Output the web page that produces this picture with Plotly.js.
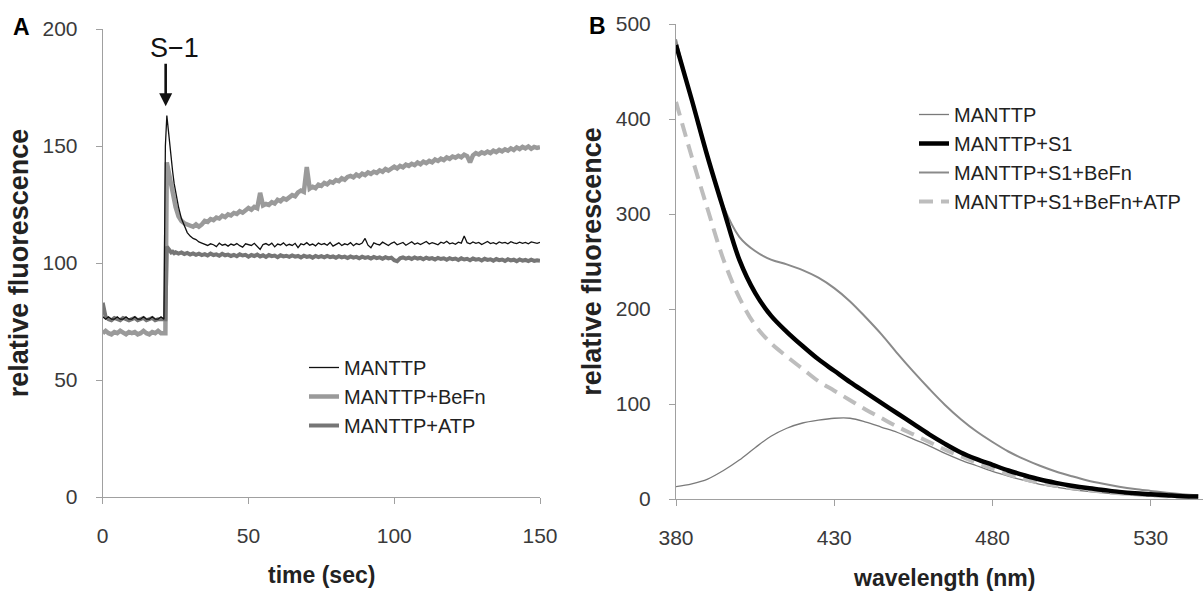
<!DOCTYPE html>
<html>
<head>
<meta charset="utf-8">
<script src="https://cdn.plot.ly/plotly-3.0.1.min.js"></script>
<style>
html,body{margin:0;padding:0;background:#fff;}
#chart{width:1203px;height:591px;}
</style>
</head>
<body>
<div id="chart"></div>
<script>
// ---------- Panel A: time course ----------
const timeSec = [
  0,1,2,3,4,5,6,7,8,9,10,11,12,13,14,15,16,17,18,19,20,
  21,21.5,22,22.5,23,23.5,24,24.5,
  25,26,27,28,29,30,31,32,33,34,
  35,36,37,38,39,40,41,42,43,44,
  45,46,47,48,49,50,51,52,53,54,
  55,56,57,58,59,60,61,62,63,64,
  65,66,67,68,69,70,71,72,73,74,
  75,76,77,78,79,80,81,82,83,84,
  85,86,87,88,89,90,91,92,93,94,
  95,96,97,98,99,100,101,102,103,104,
  105,106,107,108,109,110,111,112,113,114,
  115,116,117,118,119,120,121,122,123,124,
  125,126,127,128,129,130,131,132,133,134,
  135,136,137,138,139,140,141,142,143,144,
  145,146,147,148,149,150
];
const mantTP = [
  77,76,77,76,76,77,76,76,77,76,76,77,76,76,77,76,76,77,76,76,77,
  76,150,163,157,150,144,139,134,
  130,124,119,116,113,111.5,110.5,110,109,108.5,
  108,107.5,108.2,107.8,107,108.5,107.6,108,107.2,108.1,
  107.6,108.3,107.4,106.8,108.2,107.9,107.5,108.4,107.3,105.8,
  107.9,108.3,107.6,108.5,106.9,108.1,107.7,108.6,107.4,108,
  107.5,108.4,106.6,108.2,107.8,108.7,107.6,108.1,107.3,108.5,
  107.9,108.3,107.6,108.8,107.2,108,108.6,107.5,108.2,107.8,
  108.7,107.4,108.3,107.9,108.5,110.5,107.6,106.5,108.6,108.1,
  107.7,108.9,108.2,107.5,108.4,109,107.8,108.3,108.8,107.6,
  108.5,109.1,108,108.6,107.9,108.4,109.2,108.1,108.7,108.3,
  107.8,108.9,108.4,109.3,108.2,108.6,108,108.9,108.5,111.5,
  108.7,108.2,109,108.4,108.8,107.9,108.6,109.2,108.3,108.7,
  108.1,109,108.5,108.8,108.2,109.1,108.6,108.3,108.9,108.4,
  108.8,108.2,109,108.6,108.4,108.8
];
const mantTPBeFn = [
  70,71,70,69.5,70.5,70,71,70,69.5,70.5,70,70.5,69.5,70,71,70,69.5,70.5,70,71,70,
  70,70,143,140,136,132,129,126,
  124,120,118,117,116.5,116,115.5,116.5,115.5,116.5,
  118,117.6,118.8,118.3,119.4,119,120.2,119.6,120.8,120.3,
  121.4,121,122.1,121.5,122.6,123.5,122.8,124,123.4,130,
  124.6,125.2,124.8,126,125.4,127,126.4,127.6,127.1,128.3,
  129,128.5,130.2,131,130.4,141,131.8,132.6,132,133.5,
  133,134.2,133.6,134.8,134.3,135.4,135,136.2,135.6,136.8,
  137.2,136.6,137.8,137.1,138.2,137.6,138.7,138.1,139,138.5,
  139.6,139,140.2,139.5,140.6,141.2,140.4,141.5,140.9,142,
  141.5,142.4,141.8,142.9,142.2,143.3,142.7,143.6,143,144.2,
  143.6,144.6,144,145.1,144.5,145.5,145,145.8,145.2,146.3,
  145.7,143,146,147,146.4,147.3,146.8,147.6,147,148,
  147.4,148.3,147.7,148.6,148,149,148.3,149.4,148.7,149.6,
  149,149.8,148.8,149.6,149.2,149.5
];
const mantTPATP = [
  83,77,76,75.5,76.5,76,75.5,76.5,76,75.5,76,76.5,75.5,76,76.5,75.5,76,76.5,75.5,76,76,
  76,76,107,106,105,104.5,104.8,104.2,
  104.6,104,104.5,103.8,104.3,103.6,104.1,103.5,104,103.4,
  103.8,103.2,104,103.4,103.7,103.1,103.9,103.3,103.6,103,
  103.5,102.9,103.7,103.2,103.5,102.7,103.4,103,103.6,102.8,
  103.3,102.6,103.4,102.9,103.2,102.5,103.3,102.8,103.1,102.6,
  103.2,102.7,103,102.4,103.1,102.6,102.9,102.3,103,102.5,
  102.9,102.4,103,102.5,102.8,102.2,102.9,102.4,102.7,102.1,
  102.8,102.3,102.6,102,102.7,102.2,102.5,101.9,102.6,102.1,
  102.4,101.8,102.5,102,102.3,101.2,100.8,102,102.4,101.9,
  102.3,101.7,102.4,101.9,102.2,101.6,102.3,101.8,102.1,101.5,
  102.2,101.7,102,101.4,102.1,101.6,101.9,101.3,102,101.5,
  101.8,101.2,101.9,101.4,101.7,101.1,101.8,101.3,101.6,101,
  101.7,101.2,101.5,100.9,101.6,101.1,101.4,100.8,101.5,101,
  101.3,100.8,101.4,100.9,101.2,101
];
const seriesNamesA = ['MANTTP','MANTTP+BeFn','MANTTP+ATP'];
const ticksA_x = [0,50,100,150];
const ticksA_y = [0,50,100,150,200];

// ---------- Panel B: emission spectra ----------
const wavelengthNm = [380,385,390,395,400,405,410,415,420,425,430,435,440,445,450,455,460,465,470,475,480,485,490,495,500,505,510,515,520,525,530,535,540,545];
const specMANTTP = [13,16,21,30,41,54,66,74.5,80,83,85,85,81,75.5,70,63,56,48,41,35,29,24,19.5,15.5,12.5,10,8,6.5,5,4,3,2.5,2,1.5];
const specS1 = [478,420,360,305,252,217,193,176,161,147,135,123,112,101,90,79,68,58,49,42,36,30,25,20.5,17,14,11.5,9.5,7.5,6,5,4,3,2.5];
const specS1BeFn = [484,418,358,308,276,261,252,247,241,233,222,208,191,173,153,134,116,99,84,71,60,50,42,35,29,24,19.5,16,13,10.5,8.5,6.5,5,4];
const specS1BeFnATP = [418,360,305,252,212,183,164,150,137,124,114,104,94,85,76,68,60,52,45,38,32,26,21,17,14,11.5,9.5,7.5,6,5,4,3,2.5,2];
const seriesNamesB = ['MANTTP','MANTTP+S1','MANTTP+S1+BeFn','MANTTP+S1+BeFn+ATP'];
const ticksB_x = [380,430,480,530];
const ticksB_y = [0,100,200,300,400,500];

const W = 1203, H = 591;
const FONT = 'Liberation Sans, Arial, Helvetica, sans-serif';

const traces = [
  {x: timeSec, y: mantTPBeFn, name: seriesNamesA[1], type:'scatter', mode:'lines',
   line:{color:'#9a9a9a', width:4.5}, xaxis:'x', yaxis:'y', legend:'legend', legendrank:2},
  {x: timeSec, y: mantTPATP, name: seriesNamesA[2], type:'scatter', mode:'lines',
   line:{color:'#767676', width:4}, xaxis:'x', yaxis:'y', legend:'legend', legendrank:3},
  {x: timeSec, y: mantTP, name: seriesNamesA[0], type:'scatter', mode:'lines',
   line:{color:'#111111', width:1.3}, xaxis:'x', yaxis:'y', legend:'legend', legendrank:1},

  {x: wavelengthNm, y: specMANTTP, name: seriesNamesB[0], type:'scatter', mode:'lines',
   line:{color:'#7a7a7a', width:1.3, shape:'spline'}, xaxis:'x2', yaxis:'y2', legend:'legend2', legendrank:1},
  {x: wavelengthNm, y: specS1BeFn, name: seriesNamesB[2], type:'scatter', mode:'lines',
   line:{color:'#8a8a8a', width:2, shape:'spline'}, xaxis:'x2', yaxis:'y2', legend:'legend2', legendrank:3},
  {x: wavelengthNm, y: specS1BeFnATP, name: seriesNamesB[3], type:'scatter', mode:'lines',
   line:{color:'#bdbdbd', width:4, dash:'14px,8px', shape:'spline'}, xaxis:'x2', yaxis:'y2', legend:'legend2', legendrank:4},
  {x: wavelengthNm, y: specS1, name: seriesNamesB[1], type:'scatter', mode:'lines',
   line:{color:'#000000', width:4.5, shape:'spline'}, xaxis:'x2', yaxis:'y2', legend:'legend2', legendrank:2}
];

const axisCommon = {
  showgrid:false, zeroline:false, showline:true, linecolor:'#a0a0a0', linewidth:1,
  ticks:'outside', ticklen:6, tickcolor:'#a0a0a0', tickwidth:1,
  tickfont:{family:FONT, size:21, color:'#3a3a3a'}, fixedrange:true
};
const yTitleFont = {family:FONT, size:27, color:'#222', weight:'bold'};
const xTitleFont = {family:FONT, size:23, color:'#222'};

const layout = {
  width:W, height:H, margin:{l:0,r:0,t:0,b:0},
  paper_bgcolor:'#ffffff', plot_bgcolor:'rgba(0,0,0,0)',
  font:{family:FONT, color:'#222'},
  showlegend:true,
  xaxis: Object.assign({}, axisCommon, {
    domain:[102.7/W, 540/W], range:[0,150], tickvals:ticksA_x, anchor:'y',
    ticklabelstandoff:14
  }),
  yaxis: Object.assign({}, axisCommon, {
    domain:[(H-497)/H, (H-29)/H], range:[0,200], tickvals:ticksA_y, anchor:'x',
    ticklabelstandoff:14,
    title:{text:'<b>relative fluorescence</b>', font:yTitleFont, standoff:6}
  }),
  xaxis2: Object.assign({}, axisCommon, {
    domain:[676/W, 1], range:[380, 380 + (W-676)/3.165], tickvals:ticksB_x, anchor:'y2',
    ticklabelstandoff:14
  }),
  yaxis2: Object.assign({}, axisCommon, {
    domain:[(H-499)/H, (H-24)/H], range:[0,500], tickvals:ticksB_y, anchor:'x2',
    ticklabelstandoff:14,
    title:{text:'<b>relative fluorescence</b>', font:yTitleFont, standoff:6}
  }),
  legend:{
    x:304/W, y:(H-348)/H, xanchor:'left', yanchor:'top',
    bgcolor:'rgba(0,0,0,0)', font:{family:FONT, size:20, color:'#222'},
    traceorder:'normal', tracegroupgap:0
  },
  legend2:{
    x:914/W, y:(H-95)/H, xanchor:'left', yanchor:'top',
    bgcolor:'rgba(0,0,0,0)', font:{family:FONT, size:20, color:'#222'},
    traceorder:'normal', tracegroupgap:0
  },
  annotations:[
    {xref:'paper', yref:'paper', x:21/W, y:(H-27)/H, text:'<b>A</b>', showarrow:false,
     font:{family:FONT, size:23, color:'#000'}, xanchor:'center', yanchor:'middle'},
    {xref:'paper', yref:'paper', x:597/W, y:(H-26)/H, text:'<b>B</b>', showarrow:false,
     font:{family:FONT, size:23, color:'#000'}, xanchor:'center', yanchor:'middle'},
    {xref:'paper', yref:'paper', x:321/W, y:(H-575)/H, text:'<b>time (sec)</b>', showarrow:false,
     font:xTitleFont, xanchor:'center', yanchor:'middle'},
    {xref:'paper', yref:'paper', x:944/W, y:(H-578)/H, text:'<b>wavelength (nm)</b>', showarrow:false,
     font:xTitleFont, xanchor:'center', yanchor:'middle'},
    {xref:'x', yref:'y', x:24.5, y:192, text:'S\u22121', showarrow:false,
     font:{family:FONT, size:27, color:'#111'}, xanchor:'center', yanchor:'middle'},
    {xref:'x', yref:'y', x:21.6, y:167, text:'', showarrow:true, ax:0, ay:-44,
     arrowhead:2, arrowsize:1, arrowwidth:2.6, arrowcolor:'#111'}
  ]
};

Plotly.newPlot('chart', traces, layout, {staticPlot:true, displayModeBar:false});
</script>
</body>
</html>
